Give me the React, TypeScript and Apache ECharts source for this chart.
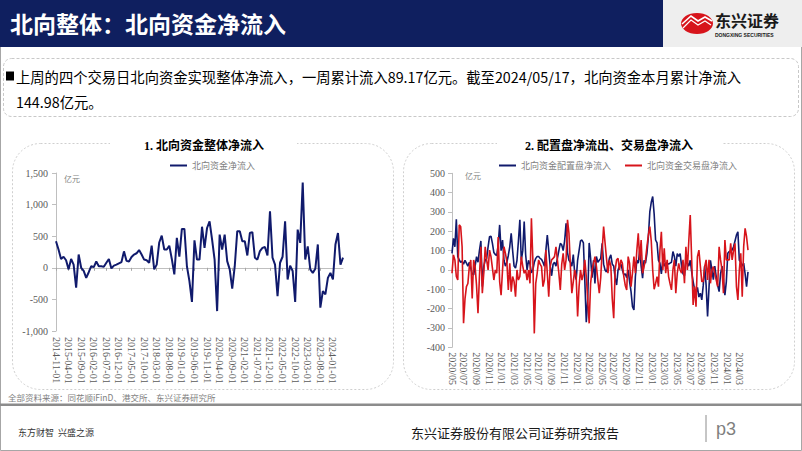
import React, { useEffect, useRef } from "react";
import * as echarts from "echarts";

// ---------- Data ----------
// Left chart: monthly net northbound inflow (亿元), 2014-11 .. 2024-05
const leftStart = { year: 2014, month: 11 };
const leftCount = 115;
const leftCategories: string[] = [];
for (let i = 0; i < leftCount; i++) {
  const mIdx = leftStart.month - 1 + i;
  const y = leftStart.year + Math.floor(mIdx / 12);
  const m = (mIdx % 12) + 1;
  leftCategories.push(`${y}-${m < 10 ? "0" + m : m}-01`);
}

const leftValues = [
  420, 290, 140, 175, 120, -25, 140, 50, -315, 210,
  0, -50, -160, -70, 25, 10, 100, 25, 25, 15,
  80, 140, -10, 35, 50, 70, 90, 260, 110, 100,
  170, 210, 230, 280, 210, 130, 120, 80, 350, -25,
  50, 400, 510, 290, 290, 350, 140, -105, 475, 175,
  615, 615, 25, -210, -540, 435, 130, 130, 650, 315,
  630, 735, 445, 130, -685, 525, 290, 525, 105, -25,
  -330, 25, 580, 580, 420, 420, 195, 550, 565, 160,
  130, 265, 315, 330, 195, 895, 160, 50, -450, 80,
  175, 735, -185, 35, -50, -540, 605, 395, 1350, 130,
  340, -25, -80, -15, 370, -630, -370, -420, -160, -80,
  -185, 370, 550, 50, 160,
];

// Right chart: weekly allocation / trading flows (亿元)
const rightStartDate = "2020-05-08";
const rightCount = 206;
const rightCategories: string[] = [];
{
  const t0 = Date.parse(rightStartDate + "T00:00:00Z");
  for (let i = 0; i < rightCount; i++) {
    const d = new Date(t0 + i * 7 * 86400000);
    const mm = d.getUTCMonth() + 1;
    const dd = d.getUTCDate();
    rightCategories.push(
      `${d.getUTCFullYear()}/${mm < 10 ? "0" + mm : mm}/${dd < 10 ? "0" + dd : dd}`
    );
  }
}

const allocationValues = [
  86, 164, 120, 262, 69, 52, 40, 45, 30, 50,
  35, 20, 40, 10, -20, -26, 20, 69, 40, 100,
  150, -86, 20, 50, 60, 120, 172, 175, 138, 90,
  80, 75, 130, 233, 100, 155, 50, 20, 40, 75,
  120, 190, 100, 20, 10, 50, 150, 259, 50, 100,
  250, 80, 0, 50, 30, -15, 0, 40, 60, 70,
  70, 60, 55, 40, 20, 100, 181, 100, 20, -30,
  30, 40, 20, 60, 100, 138, 130, 100, 150, 241,
  90, 50, 40, 20, 80, -20, -50, 50, 100, 150,
  155, 140, -60, -270, -150, 140, 60, -40, 50, -70,
  70, 40, 50, 60, 138, 30, 0, -10, 20, 60,
  78, 30, 20, -40, -78, 0, 20, 30, 0, -25,
  -20, -40, 0, -60, -112, -190, -207, -35, 50, 35,
  100, 20, -43, 50, 35, 86, 172, 300, 350, 380,
  290, 155, 140, 50, 35, -20, 50, 20, 35, 35,
  30, 35, 40, 95, 70, 20, 85, 70, 85, 20,
  -20, -30, 50, 35, 20, 50, -10, -60, -100, -120,
  -90, -140, -120, -155, -80, 20, -80, -241, -90, 50,
  0, -50, 20, -35, -80, -112, -20, 20, -50, -130,
  -60, 86, 95, 100, 103, 120, 150, 180, 198, 50,
  40, 20, 35, -20, -86, -10,
];

const tradingValues = [
  -17, 78, 52, -34, -52, 233, 225, 120, -276, -150,
  -86, -70, 17, 52, -147, 52, 17, -80, -224, -34,
  120, -120, -17, 120, 52, 0, 103, 69, 10, -52,
  0, -17, 170, -60, -130, 0, 120, 86, 43, -103,
  34, -112, -34, -60, -138, 0, -52, -34, 69, 20,
  -17, 0, -52, 0, -69, 267, 52, -328, -69, -17,
  52, 30, 17, -86, -52, 103, -17, -138, 17, 52,
  60, 69, 120, 52, -17, -103, 30, 86, 0, 52,
  259, 190, 17, -120, -60, 0, -34, -240, -86, 0,
  -52, -20, 52, -34, -155, -276, -69, 0, 34, 69,
  20, -52, -120, -40, 100, 224, 140, 60, -17, 52,
  20, -150, -250, 0, 52, 60, 0, 52, 34, -34,
  -80, -103, 69, 34, -86, -17, 69, -17, 100, 190,
  52, 155, -17, 17, 52, 120, 180, 224, 150, 0,
  -100, -70, -34, -86, 100, 198, 0, 112, -17, 52,
  -34, -70, -103, 0, 52, -120, -17, 34, 0, -17,
  52, -69, 120, 0, 150, 284, 52, -181, -86, -190,
  69, 103, 20, -60, -60, 17, 52, -52, 52, -69,
  0, 17, -17, -52, -86, 120, 52, 0, -120, 155,
  52, 52, 52, 138, 52, 100, 138, -86, -155, 0,
  86, -138, 120, 215, 172, 103,
];

const leftYTicks = { min: -1000, max: 1500, interval: 500 };
const rightYTicks = { min: -400, max: 500, interval: 100 };

const headerTitle = "北向整体：北向资金净流入";
const summaryLine1 =
  "上周的四个交易日北向资金实现整体净流入，一周累计流入89.17亿元。截至2024/05/17，北向资金本月累计净流入";
const summaryLine2 = "144.98亿元。";
const leftTitle = "1. 北向资金整体净流入";
const rightTitle = "2. 配置盘净流出、交易盘净流入";
const leftSeriesName = "北向资金净流入";
const rightSeriesNames = ["北向资金配置盘净流入", "北向资金交易盘净流入"];
const unitLabel = "亿元";
const sourceText = "全部资料来源：同花顺iFinD、港交所、东兴证券研究所";
const footerLeft = "东方财智  兴盛之源";
const footerCenter = "东兴证券股份有限公司证券研究报告";
const pageNo = "p3";

// ---------- Styles ----------
const NAVY = "#101a6c";
const RED = "#d7141b";
const AXIS_GRAY = "#bfbfbf";
const LABEL_GRAY = "#595959";
const SERIF = "'Liberation Serif', 'Noto Sans CJK SC', serif";
const CJK = "'Noto Sans CJK SC', sans-serif";

const rightLabelShow: boolean[] = rightCategories.map((c, i) => {
  if (i === 0) return true;
  const m = parseInt(c.slice(5, 7), 10);
  const pm = parseInt(rightCategories[i - 1].slice(5, 7), 10);
  return m !== pm && m % 2 === 1;
});

export default function App() {
  const ref = useRef<HTMLDivElement>(null);

  useEffect(() => {
    if (!ref.current) return;
    const chart = echarts.init(ref.current, undefined, { renderer: "svg" });

    const xLabelStyle = {
      rotate: -90,
      fontSize: 10,
      color: LABEL_GRAY,
      fontFamily: SERIF,
    };
    const yLabelStyle = {
      fontSize: 10,
      color: LABEL_GRAY,
      fontFamily: SERIF,
    };

    const option: any = {
      animation: false,
      backgroundColor: "#ffffff",
      grid: [
        { left: 56, top: 173, width: 287, height: 158 },
        { left: 452, top: 173.3, width: 296, height: 174 },
      ],
      legend: [
        {
          data: [leftSeriesName],
          left: 165,
          top: 156,
          icon: "rect",
          itemWidth: 17,
          itemHeight: 2,
          itemGap: 14,
          textStyle: { color: "#7f7f7f", fontSize: 9, fontFamily: CJK },
        },
        {
          data: rightSeriesNames,
          left: 494,
          top: 156,
          icon: "rect",
          itemWidth: 17,
          itemHeight: 2,
          itemGap: 14,
          textStyle: { color: "#7f7f7f", fontSize: 9, fontFamily: CJK },
        },
      ],
      xAxis: [
        {
          type: "category",
          gridIndex: 0,
          data: leftCategories,
          boundaryGap: false,
          position: "bottom",
          axisLine: { show: false, onZero: false },
          axisTick: { show: false },
          axisLabel: { ...xLabelStyle, interval: 4, margin: 6 },
        },
        {
          type: "category",
          gridIndex: 0,
          data: leftCategories,
          boundaryGap: false,
          position: "bottom",
          axisLine: { show: true, onZero: true, lineStyle: { color: AXIS_GRAY, width: 1 } },
          axisTick: { show: true, interval: 4, length: 3, lineStyle: { color: "#a6a6a6" } },
          axisLabel: { show: false },
        },
        {
          type: "category",
          gridIndex: 1,
          data: rightCategories,
          boundaryGap: false,
          position: "bottom",
          axisLine: { show: false, onZero: false },
          axisTick: { show: false },
          axisLabel: {
            ...xLabelStyle,
            margin: 5,
            interval: (idx: number) => rightLabelShow[idx],
            formatter: (v: string) => v.slice(0, 7),
          },
        },
        {
          type: "category",
          gridIndex: 1,
          data: rightCategories,
          boundaryGap: false,
          position: "bottom",
          axisLine: { show: true, onZero: true, lineStyle: { color: "#d0d0d0", width: 1 } },
          axisTick: { show: false },
          axisLabel: { show: false },
        },
      ],
      yAxis: [
        {
          type: "value",
          gridIndex: 0,
          min: leftYTicks.min,
          max: leftYTicks.max,
          interval: leftYTicks.interval,
          axisLine: { show: true, lineStyle: { color: AXIS_GRAY } },
          axisTick: { show: true, length: 4, lineStyle: { color: AXIS_GRAY } },
          splitLine: { show: false },
          axisLabel: {
            ...yLabelStyle,
            margin: 8,
            formatter: (v: number) => v.toLocaleString("en-US"),
          },
        },
        {
          type: "value",
          gridIndex: 1,
          min: rightYTicks.min,
          max: rightYTicks.max,
          interval: rightYTicks.interval,
          axisLine: { show: true, lineStyle: { color: AXIS_GRAY } },
          axisTick: { show: true, length: 4, lineStyle: { color: AXIS_GRAY } },
          splitLine: { show: false },
          axisLabel: { ...yLabelStyle, margin: 7 },
        },
      ],
      series: [
        {
          name: leftSeriesName,
          type: "line",
          xAxisIndex: 0,
          yAxisIndex: 0,
          data: leftValues,
          symbol: "none",
          lineStyle: { color: NAVY, width: 2 },
          itemStyle: { color: NAVY },
          z: 5,
        },
        {
          name: rightSeriesNames[0],
          type: "line",
          xAxisIndex: 2,
          yAxisIndex: 1,
          data: allocationValues,
          symbol: "none",
          lineStyle: { color: NAVY, width: 1.6 },
          itemStyle: { color: NAVY },
          z: 5,
        },
        {
          name: rightSeriesNames[1],
          type: "line",
          xAxisIndex: 2,
          yAxisIndex: 1,
          data: tradingValues,
          symbol: "none",
          lineStyle: { color: RED, width: 1.6 },
          itemStyle: { color: RED },
          z: 6,
        },
      ],
      graphic: {
        elements: [
          // page frame
          {
            type: "rect",
            shape: { x: 0.5, y: 0.5, width: 801, height: 450 },
            style: { fill: "none", stroke: "#a6a6a6", lineWidth: 1 },
            z: 0,
          },
          // header
          {
            type: "rect",
            shape: { x: 0, y: 0, width: 663, height: 47 },
            style: { fill: "#0f1f5f" },
          },
          {
            type: "rect",
            shape: { x: 663, y: 0, width: 139, height: 47 },
            style: { fill: "#eeeeee" },
          },
          {
            type: "text",
            x: 10,
            y: 23,
            style: {
              text: headerTitle,
              fill: "#ffffff",
              fontSize: 23,
              fontWeight: "bold",
              fontFamily: CJK,
              verticalAlign: "middle",
            },
          },
          // logo emblem
          {
            type: "ellipse",
            shape: { cx: 697, cy: 23.5, rx: 16, ry: 10.5 },
            style: { fill: RED },
          },
          {
            type: "polyline",
            shape: { points: [[682, 24], [691, 16], [698, 21], [705, 17], [712, 21]] },
            style: { stroke: "#ffffff", lineWidth: 1.6, fill: "none" },
          },
          {
            type: "polyline",
            shape: { points: [[683, 28], [691, 20], [698, 25], [705, 21], [711, 25]] },
            style: { stroke: "#ffffff", lineWidth: 1.2, fill: "none" },
          },
          {
            type: "text",
            x: 715,
            y: 20,
            style: {
              text: "东兴证券",
              fill: "#1a1a1a",
              fontSize: 16,
              fontWeight: "bold",
              fontFamily: CJK,
              verticalAlign: "middle",
            },
          },
          {
            type: "text",
            x: 715,
            y: 35,
            style: {
              text: "DONGXING SECURITIES",
              fill: "#1a1a1a",
              fontSize: 5,
              fontWeight: "bold",
              fontFamily: "'Liberation Sans', sans-serif",
              verticalAlign: "middle",
            },
          },
          // summary box
          {
            type: "rect",
            shape: { x: 3.5, y: 58.5, width: 795, height: 58, r: 8 },
            style: { fill: "none", stroke: "#c8c8c8", lineWidth: 1, lineDash: [3, 2] },
          },
          {
            type: "rect",
            shape: { x: 6, y: 71.5, width: 8, height: 9 },
            style: { fill: "#000000" },
          },
          {
            type: "text",
            x: 16,
            y: 76,
            style: {
              text: summaryLine1,
              fill: "#000000",
              fontSize: 14.3,
              fontFamily: CJK,
              verticalAlign: "middle",
            },
          },
          {
            type: "text",
            x: 16,
            y: 101,
            style: {
              text: summaryLine2,
              fill: "#000000",
              fontSize: 14.3,
              fontFamily: CJK,
              verticalAlign: "middle",
            },
          },
          // panels
          {
            type: "rect",
            shape: { x: 12.5, y: 143.5, width: 381, height: 246, r: 28 },
            style: { fill: "none", stroke: "#cfcfcf", lineWidth: 1, lineDash: [2, 2] },
          },
          {
            type: "rect",
            shape: { x: 403.5, y: 143.5, width: 391, height: 246, r: 28 },
            style: { fill: "none", stroke: "#cfcfcf", lineWidth: 1, lineDash: [2, 2] },
          },
          {
            type: "rect",
            shape: { x: 110, y: 138, width: 187, height: 12 },
            style: { fill: "#ffffff" },
          },
          {
            type: "rect",
            shape: { x: 497, y: 138, width: 225, height: 12 },
            style: { fill: "#ffffff" },
          },
          {
            type: "text",
            x: 204,
            y: 146,
            style: {
              text: leftTitle,
              fill: "#000000",
              fontSize: 12,
              fontWeight: "bold",
              fontFamily: SERIF,
              align: "center",
              verticalAlign: "middle",
            },
          },
          {
            type: "text",
            x: 609,
            y: 146,
            style: {
              text: rightTitle,
              fill: "#000000",
              fontSize: 12,
              fontWeight: "bold",
              fontFamily: SERIF,
              align: "center",
              verticalAlign: "middle",
            },
          },
          {
            type: "text",
            x: 64,
            y: 178,
            style: {
              text: unitLabel,
              fill: "#7f7f7f",
              fontSize: 8,
              fontFamily: CJK,
              verticalAlign: "middle",
            },
          },
          {
            type: "text",
            x: 465,
            y: 175,
            style: {
              text: unitLabel,
              fill: "#7f7f7f",
              fontSize: 8,
              fontFamily: CJK,
              verticalAlign: "middle",
            },
          },
          // footer
          {
            type: "text",
            x: 8,
            y: 397,
            style: {
              text: sourceText,
              fill: "#7f7f7f",
              fontSize: 8.5,
              fontFamily: CJK,
              verticalAlign: "middle",
            },
          },
          {
            type: "rect",
            shape: { x: 0, y: 403.5, width: 802, height: 2.5 },
            style: { fill: "#8c8c8c" },
          },
          {
            type: "text",
            x: 18,
            y: 432,
            style: {
              text: footerLeft,
              fill: "#333333",
              fontSize: 9,
              fontFamily: CJK,
              verticalAlign: "middle",
            },
          },
          {
            type: "text",
            x: 515,
            y: 432,
            style: {
              text: footerCenter,
              fill: "#1a1a1a",
              fontSize: 13,
              fontFamily: CJK,
              align: "center",
              verticalAlign: "middle",
            },
          },
          {
            type: "line",
            shape: { x1: 706, y1: 415, x2: 706, y2: 442 },
            style: { stroke: "#8c8c8c", lineWidth: 1 },
          },
          {
            type: "text",
            x: 716,
            y: 429,
            style: {
              text: pageNo,
              fill: "#7f7f7f",
              fontSize: 18,
              fontFamily: "'Liberation Sans', sans-serif",
              verticalAlign: "middle",
            },
          },
        ],
      },
    };

    chart.setOption(option);
    return () => {
      chart.dispose();
    };
  }, []);

  return (
    <div
      ref={ref}
      style={{ position: "fixed", left: 0, top: 0, width: 802, height: 451 }}
    />
  );
}
